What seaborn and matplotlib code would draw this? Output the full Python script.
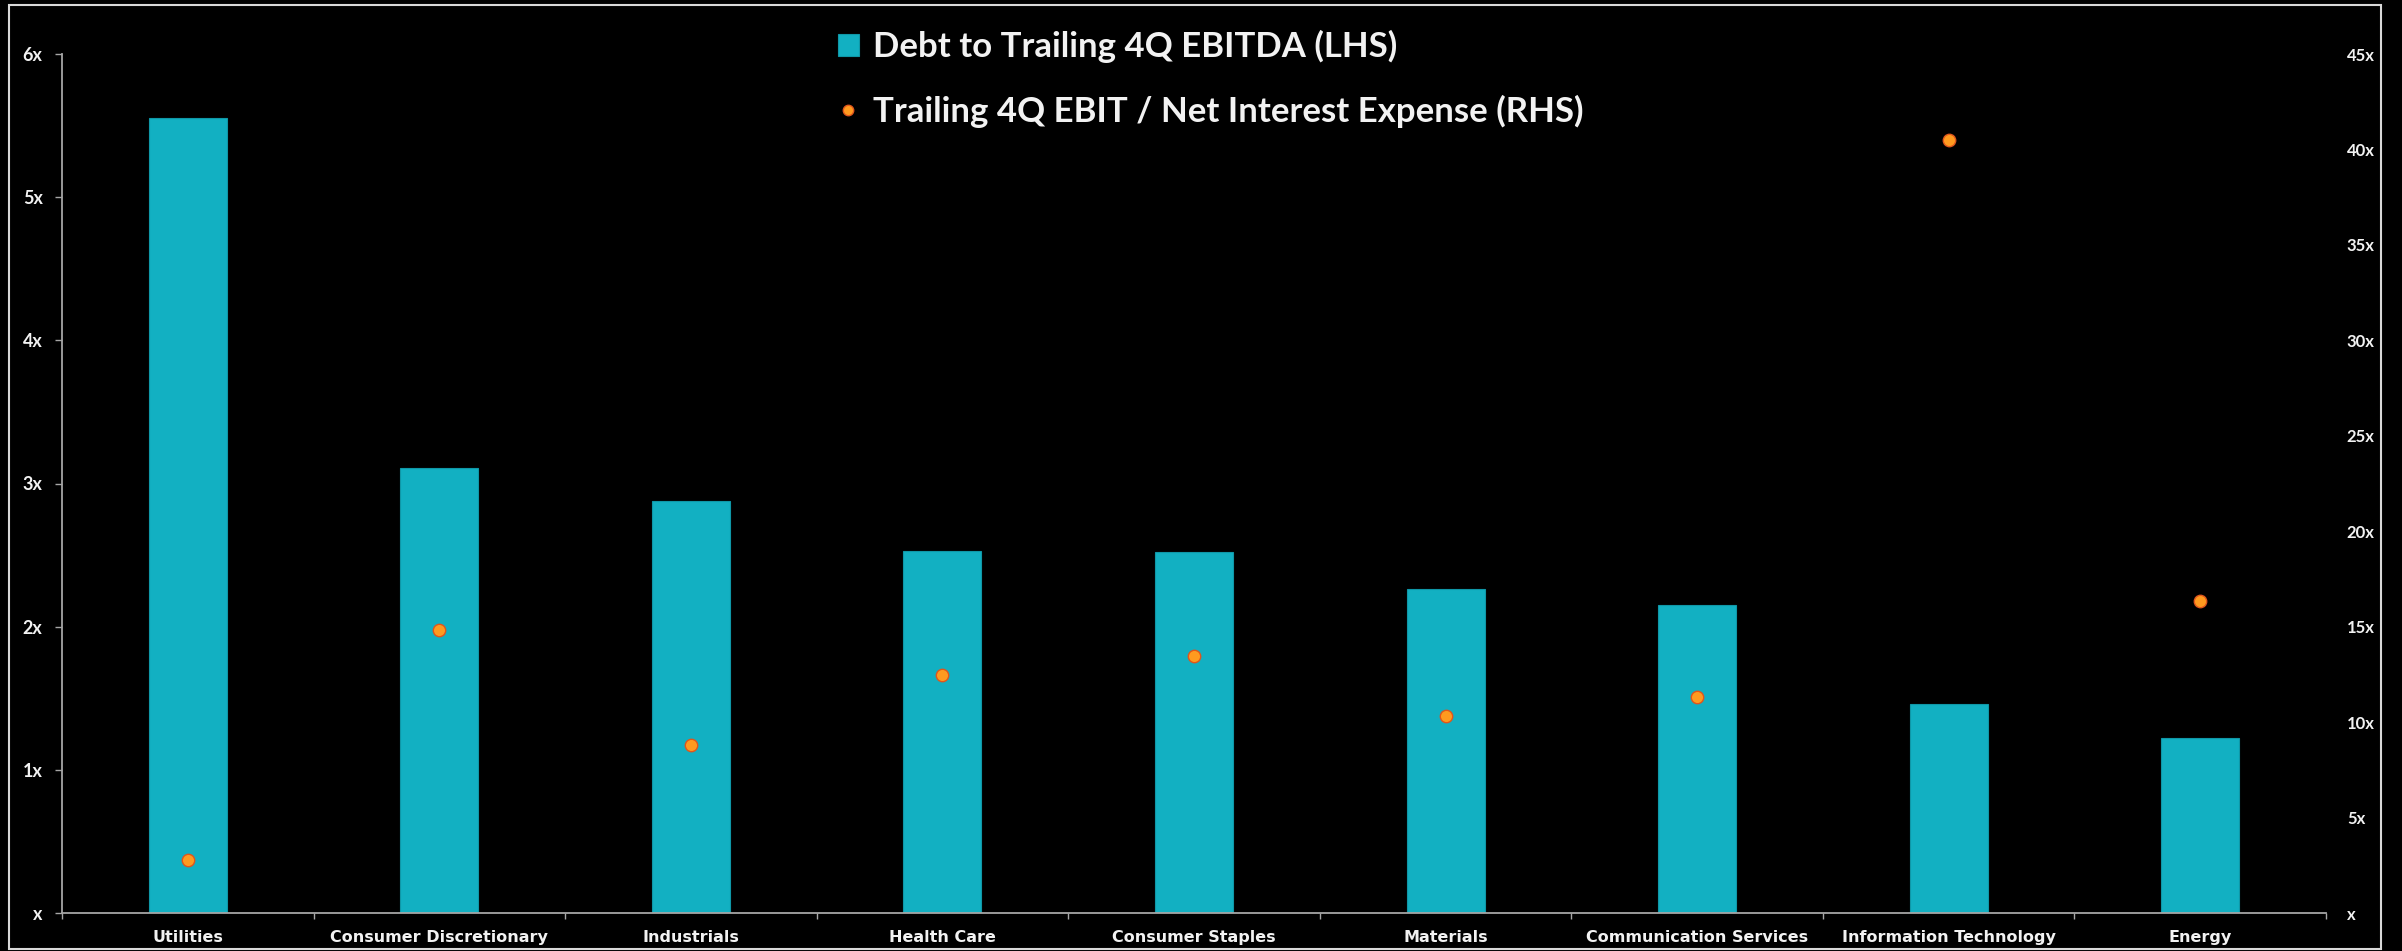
import numpy as np
import pandas as pd
import matplotlib
matplotlib.use("Agg")
import matplotlib.pyplot as plt
from matplotlib.patches import Patch, Rectangle
from matplotlib.lines import Line2D
import seaborn as sns

# Sector leverage and interest coverage
sectors = ["Utilities", "Consumer Discretionary", "Industrials", "Health Care",
           "Consumer Staples", "Materials", "Communication Services",
           "Information Technology", "Energy"]
debt_to_ebitda = [5.55, 3.11, 2.88, 2.53, 2.52, 2.26, 2.15, 1.46, 1.22]
ebit_to_interest = [2.78, 14.8, 8.8, 12.45, 13.45, 10.3, 11.3, 40.5, 16.35]

left_ticks = [0, 1, 2, 3, 4, 5, 6]
right_ticks = [0, 5, 10, 15, 20, 25, 30, 35, 40, 45]

BAR = "#12B0C2"
BAR_EDGE = "#0F97A7"
DOT = "#FF9A1F"
DOT_EDGE = "#E0561C"
TXT = "#F2F2F2"
AXIS = "#A6A6A6"

sns.set_theme(style="dark")
plt.rcParams["font.family"] = ["Lato", "DejaVu Sans"]

W, H = 2402, 951
fig = plt.figure(figsize=(W / 100, H / 100), dpi=100, facecolor="black")
ax = fig.add_axes([62 / W, 1 - 913 / H, (2326 - 62) / W, (913 - 54) / H])
ax.set_facecolor("black")

df = pd.DataFrame({"sector": sectors, "debt": debt_to_ebitda})
sns.barplot(data=df, x="sector", y="debt", ax=ax, color=BAR, width=0.31,
            saturation=1, edgecolor=BAR_EDGE, linewidth=0.8, zorder=2)

ax.set_xlim(-0.5, len(sectors) - 0.5)
ax.set_ylim(0, 6)
ax.set_yticks(left_ticks)
ax.set_yticklabels([f"{t}x" if t else "x" for t in left_ticks])
ax.set_xlabel("")
ax.set_ylabel("")
ax.grid(False)

for side in ["top", "right"]:
    ax.spines[side].set_visible(False)
for side in ["left", "bottom"]:
    ax.spines[side].set_visible(True)
    ax.spines[side].set_color(AXIS)
    ax.spines[side].set_linewidth(1.3)

ax.tick_params(axis="y", colors=AXIS, length=5, width=1, pad=9, left=True,
               labelcolor=TXT, labelsize=13)
for lbl in ax.get_yticklabels():
    lbl.set_fontweight("bold")

# category labels centred, short ticks on category boundaries
ax.set_xticks(np.arange(len(sectors)))
ax.set_xticklabels(sectors)
ax.tick_params(axis="x", which="major", length=0, pad=12, labelcolor=TXT)
for lbl in ax.get_xticklabels():
    lbl.set_family(["Liberation Sans Narrow", "DejaVu Sans"])
    lbl.set_fontweight("bold")
    lbl.set_fontsize(11.5)
ax.set_xticks(np.arange(len(sectors) + 1) - 0.5, minor=True)
ax.tick_params(axis="x", which="minor", bottom=True, length=4, width=1, color=AXIS)

ax2 = ax.twinx()
sns.scatterplot(x=np.arange(len(sectors)), y=ebit_to_interest, ax=ax2, s=80,
                color=DOT, edgecolor=DOT_EDGE, linewidth=1.0, zorder=3)
ax2.set_ylim(0, 45)
ax2.set_yticks(right_ticks)
ax2.set_yticklabels([f"{t}x" if t else "x" for t in right_ticks])
ax2.grid(False)
for side in ax2.spines:
    ax2.spines[side].set_visible(False)
ax2.tick_params(axis="y", length=0, pad=15, labelcolor=TXT, labelsize=12, right=True)
for lbl in ax2.get_yticklabels():
    lbl.set_fontweight("bold")

handles = [
    Patch(facecolor=BAR, edgecolor=BAR_EDGE, linewidth=0.8),
    Line2D([], [], ls="", marker="o", markersize=7.5, markerfacecolor=DOT,
           markeredgecolor=DOT_EDGE, markeredgewidth=1.0),
]
labels = ["Debt to Trailing 4Q EBITDA (LHS)",
          "Trailing 4Q EBIT / Net Interest Expense (RHS)"]
leg = fig.legend(handles, labels, loc="upper left",
                 bbox_to_anchor=(838 / W, 1 - 30 / H), frameon=False,
                 prop={"family": ["Lato", "DejaVu Sans"], "weight": "bold", "size": 25},
                 handlelength=0.6, handleheight=0.6, handletextpad=0.4,
                 labelspacing=0.9, borderpad=0, borderaxespad=0)
for t in leg.get_texts():
    t.set_color(TXT)

# outer frame
fig.add_artist(Rectangle((9 / W, 1 - 949 / H), (2381 - 9) / W, (949 - 5) / H,
                         transform=fig.transFigure, fill=False,
                         edgecolor="#D9D9D9", linewidth=1.5))

fig.savefig("out.png", dpi=100, facecolor="black")
